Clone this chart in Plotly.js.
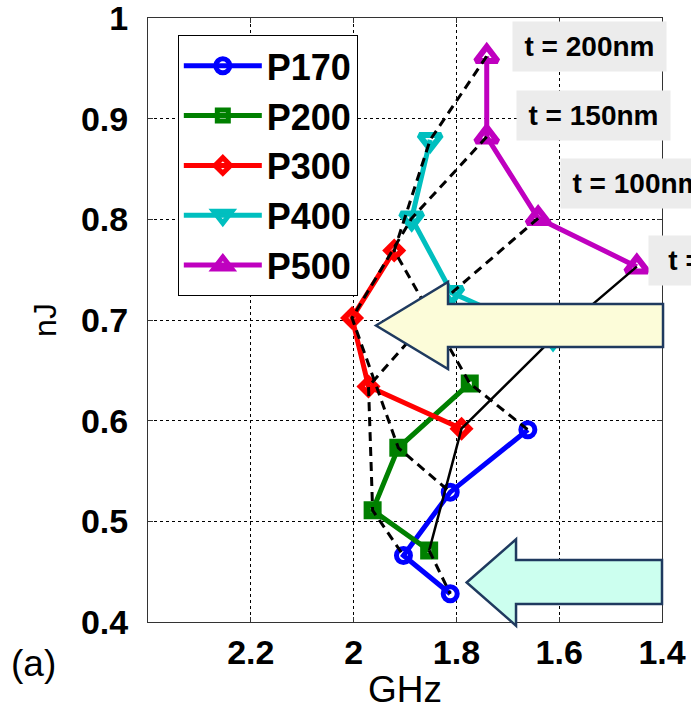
<!DOCTYPE html>
<html>
<head>
<meta charset="utf-8">
<script src="https://cdn.plot.ly/plotly-3.0.1.min.js"></script>
<style>html,body{margin:0;padding:0;background:#fff;}</style>
</head>
<body>
<div id="chart" style="width:691px;height:710px;"></div>
<script>
// ---- data ----
const seriesNames = ['P170', 'P200', 'P300', 'P400', 'P500'];
const thicknessLabels = ['t = 200nm', 't = 150nm', 't = 100nm', 't = 50nm'];
// each series: points for t = 200, 150, 100, 50 nm
const P170_GHz = [1.661, 1.812, 1.903, 1.812];
const P170_nJ  = [0.591, 0.529, 0.466, 0.428];
const P200_GHz = [1.774, 1.913, 1.963, 1.853];
const P200_nJ  = [0.637, 0.573, 0.511, 0.471];
const P300_GHz = [1.921, 2.003, 1.971, 1.790];
const P300_nJ  = [0.769, 0.702, 0.634, 0.592];
const P400_GHz = [1.851, 1.887, 1.809, 1.612];
const P400_nJ  = [0.879, 0.801, 0.727, 0.682];
const P500_GHz = [1.741, 1.741, 1.641, 1.449];
const P500_nJ  = [0.962, 0.882, 0.801, 0.753];
const xTickVals = [2.2, 2.0, 1.8, 1.6, 1.4];
const xTickText = ['2.2', '2', '1.8', '1.6', '1.4'];
const yTickVals = [0.4, 0.5, 0.6, 0.7, 0.8, 0.9, 1.0];
const yTickText = ['0.4', '0.5', '0.6', '0.7', '0.8', '0.9', '1'];

// ---- styles ----
const colors = ['#0000FF', '#008000', '#FF0000', '#00BFBF', '#BF00BF'];
const symbols = ['circle-open', 'square-open', 'diamond-open', 'triangle-down-open', 'triangle-up-open'];
const msize = [14, 11, 12, 19, 19];
const mlw = [5, 7, 6, 6, 6];
const FONT = 'Liberation Sans, Arial, sans-serif';

const xs = [P170_GHz, P200_GHz, P300_GHz, P400_GHz, P500_GHz];
const ys = [P170_nJ, P200_nJ, P300_nJ, P400_nJ, P500_nJ];

const traces = [];
for (let s = 0; s < seriesNames.length; s++) {
  traces.push({
    type: 'scatter', mode: 'lines+markers', name: seriesNames[s],
    x: xs[s], y: ys[s],
    line: {color: colors[s], width: 5},
    marker: {symbol: symbols[s], size: msize[s], color: colors[s], line: {width: mlw[s], color: colors[s]}},
    hoverinfo: 'skip'
  });
}
// constant-thickness connecting lines (order P500 -> P170)
const order = [4, 3, 2, 1, 0];
for (let i = 0; i < 3; i++) {
  traces.push({
    type: 'scatter', mode: 'lines', showlegend: false, hoverinfo: 'skip',
    x: order.map(s => xs[s][i]), y: order.map(s => ys[s][i]),
    line: {color: '#000', width: 3, dash: '9px,6px'}
  });
}
// t = 50nm: solid through P500..P200, dashed to P170
traces.push({
  type: 'scatter', mode: 'lines', showlegend: false, hoverinfo: 'skip',
  x: [4, 3, 2, 1].map(s => xs[s][3]), y: [4, 3, 2, 1].map(s => ys[s][3]),
  line: {color: '#000', width: 2.5}
});
traces.push({
  type: 'scatter', mode: 'lines', showlegend: false, hoverinfo: 'skip',
  x: [1, 0].map(s => xs[s][3]), y: [1, 0].map(s => ys[s][3]),
  line: {color: '#000', width: 3, dash: '9px,6px'}
});

// label boxes (paper coords)
const boxX = [0.7082, 0.716, 0.8016, 0.9728];
const boxY = [0.995, 0.8808, 0.7682, 0.6407];
const annotations = thicknessLabels.map((t, i) => ({
  xref: 'paper', yref: 'paper', x: boxX[i], y: boxY[i], xanchor: 'left', yanchor: 'top',
  text: t, showarrow: false, width: 153, height: 49, bgcolor: '#ECECEC', borderpad: 0,
  align: 'center', valign: 'middle',
  font: {family: FONT, size: 28, weight: 'bold', color: '#000'}
}));
annotations.push({
  xref: 'paper', yref: 'paper', x: -0.27, y: -0.068, xanchor: 'left', yanchor: 'middle',
  text: '(a)', showarrow: false, font: {family: FONT, size: 37, color: '#000'}
});

const shapes = [
  {type: 'path', xref: 'paper', yref: 'paper', layer: 'above',
   path: 'M0.4436,0.4909 L0.5837,0.5629 L0.5837,0.5265 L1.002,0.5265 L1.002,0.4553 L0.5837,0.4553 L0.5837,0.4189 Z',
   fillcolor: '#FCFCD9', line: {color: '#1F3A5F', width: 2.5}},
  {type: 'path', xref: 'paper', yref: 'paper', layer: 'above',
   path: 'M0.62,0.0654 L0.716,0.1369 L0.716,0.1026 L1.0,0.1026 L1.0,0.0298 L0.716,0.0298 L0.716,-0.0061 Z',
   fillcolor: '#CCFFEF', line: {color: '#1F3A5F', width: 2.5}}
];

const axisCommon = {
  showline: true, linecolor: '#333', linewidth: 1, mirror: 'ticks',
  ticks: 'inside', ticklen: 5, tickcolor: '#333',
  showgrid: true, gridcolor: '#000', gridwidth: 1, griddash: '3px,3px',
  zeroline: false, ticklabeloverflow: 'allow',
  tickfont: {family: FONT, size: 34, weight: 'bold', color: '#000'}
};

const layout = {
  width: 691, height: 710,
  margin: {l: 148, r: 29, t: 18, b: 88, pad: 0},
  paper_bgcolor: '#fff', plot_bgcolor: '#fff',
  font: {family: FONT, color: '#000'},
  showlegend: true,
  legend: {
    x: 0.058, y: 0.972, xanchor: 'left', yanchor: 'top',
    bgcolor: '#fff', bordercolor: '#000', borderwidth: 1,
    font: {family: FONT, size: 36, weight: 'bold', color: '#000'},
    itemwidth: 78
  },
  xaxis: Object.assign({}, axisCommon, {
    range: [2.4, 1.4], tickmode: 'array', tickvals: xTickVals, ticktext: xTickText,
    ticklabelstandoff: 0,
    title: {text: 'GHz', font: {family: FONT, size: 37, color: '#000'}, standoff: 8}
  }),
  yaxis: Object.assign({}, axisCommon, {
    range: [0.4, 1.0], tickmode: 'array', tickvals: yTickVals, ticktext: yTickText,
    ticklabelstandoff: 12,
    title: {text: 'nJ', font: {family: FONT, size: 32, color: '#000'}, standoff: 14}
  }),
  annotations: annotations,
  shapes: shapes
};

Plotly.newPlot('chart', traces, layout, {displayModeBar: false, staticPlot: true});
</script>
</body>
</html>
